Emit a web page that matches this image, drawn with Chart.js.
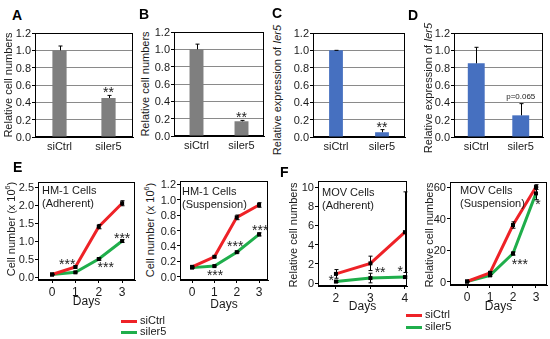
<!DOCTYPE html>
<html>
<head>
<meta charset="utf-8">
<script src="https://cdn.jsdelivr.net/npm/chart.js@4.4.1/dist/chart.umd.min.js"></script>
<style>
  body { margin: 0; background: #fff; }
  #fig { position: relative; width: 550px; height: 339px; overflow: hidden;
         font-family: "Liberation Sans", Arial, sans-serif; color: #1a1a1a; }
  #fig canvas { position: absolute; }
  .lbl { position: absolute; font-weight: bold; font-size: 14px; line-height: 14px; color: #000; }
  .ytitle { position: absolute; font-size: 11px; line-height: 12px; white-space: nowrap;
            transform: translate(-50%, -50%) rotate(-90deg); }
  .ytitle sup { font-size: 7px; line-height: 0; }
  .ytick { position: absolute; font-size: 11px; line-height: 12px; white-space: nowrap; text-align: right; }
  .note { position: absolute; font-size: 11px; line-height: 13px; white-space: nowrap; }
  .leg { position: absolute; font-size: 11px; line-height: 12px; white-space: nowrap; }
  .leg span { display: inline-block; width: 16px; height: 3px; vertical-align: middle; margin-right: 3px; }
</style>
</head>
<body>
<div id="fig">
  <canvas id="chartA"></canvas>
  <canvas id="chartB"></canvas>
  <canvas id="chartC"></canvas>
  <canvas id="chartD"></canvas>
  <canvas id="chartE1"></canvas>
  <canvas id="chartE2"></canvas>
  <canvas id="chartF1"></canvas>
  <canvas id="chartF2"></canvas>

  <div class="lbl" style="left:12px;top:8px">A</div>
  <div class="lbl" style="left:139px;top:7px">B</div>
  <div class="lbl" style="left:272px;top:6px">C</div>
  <div class="lbl" style="left:408px;top:8px">D</div>
  <div class="lbl" style="left:13px;top:160px">E</div>
  <div class="lbl" style="left:280px;top:165px">F</div>

  <div class="ytitle" style="left:8px;top:85px">Relative cell numbers</div>
  <div class="ytitle" style="left:145px;top:84px">Relative cell numbers</div>
  <div class="ytitle" style="left:277px;top:90px">Relative expression of <i>Ier5</i></div>
  <div class="ytitle" style="left:428px;top:88px">Relative expression of <i>Ier5</i></div>
  <div class="ytitle" style="left:11px;top:229px">Cell number (x 10<sup>6</sup>)</div>
  <div class="ytitle" style="left:150px;top:230px">Cell number (x 10<sup>6</sup>)</div>
  <div class="ytitle" style="left:293px;top:235px">Relative cell numbers</div>
  <div class="ytitle" style="left:429px;top:235px">Relative cell numbers</div>

  <div class="note" style="left:42px;top:184px">HM-1 Cells<br>(Adherent)</div>
  <div class="note" style="left:182px;top:185px">HM-1 Cells<br>(Suspension)</div>
  <div class="note" style="left:322px;top:186px">MOV Cells<br>(Adherent)</div>
  <div class="note" style="left:460px;top:184px">MOV Cells<br>(Suspension)</div>

  <div class="leg" style="left:121px;top:314px"><span style="background:#ee2227"></span>siCtrl</div>
  <div class="leg" style="left:121px;top:325px"><span style="background:#1fae4b"></span>siler5</div>
  <div class="leg" style="left:406px;top:308px"><span style="background:#ee2227"></span>siCtrl</div>
  <div class="leg" style="left:406px;top:320px"><span style="background:#1fae4b"></span>siler5</div>
</div>

<script>
// bar panels A-D
const barCats = ['siCtrl', 'siler5'];
const barTicks = [0, 0.2, 0.4, 0.6, 0.8, 1.0, 1.2];
const aVals = [1.0, 0.45];
const aErr = [0.05, 0.03];
const bVals = [1.0, 0.17];
const bErr = [0.06, 0.01];
const cVals = [1.0, 0.055];
const cErr = [0.0, 0.03];
const dVals = [0.85, 0.25];
const dErr = [0.185, 0.135];

// E: HM-1 cells
const eDays = [0, 1, 2, 3];
const eAdhCtrl = [0.07, 0.28, 1.40, 2.05];
const eAdhCtrlErr = [0.01, 0.03, 0.06, 0.07];
const eAdhIer5 = [0.07, 0.13, 0.50, 1.00];
const eAdhIer5Err = [0.01, 0.02, 0.03, 0.04];
const eAdhTicks = [0, 0.5, 1.0, 1.5, 2.0, 2.5];
const eSusCtrl = [0.13, 0.26, 0.77, 0.93];
const eSusCtrlErr = [0.01, 0.01, 0.03, 0.03];
const eSusIer5 = [0.12, 0.14, 0.32, 0.55];
const eSusIer5Err = [0.01, 0.01, 0.01, 0.02];
const eSusTicks = [0, 0.2, 0.4, 0.6, 0.8, 1.0, 1.2];

// F: MOV cells
const fAdhDays = [2, 3, 4];
const fAdhCtrl = [0.95, 2.05, 5.3];
const fAdhCtrlErr = [0.45, 0.75, 4.2];
const fAdhIer5 = [0.15, 0.52, 0.62];
const fAdhIer5Err = [0.1, 0.5, 0.1];
const fAdhTicks = [0, 2, 4, 6, 8, 10];
const fSusDays = [0, 1, 2, 3];
const fSusCtrl = [0.3, 5.8, 36, 60];
const fSusCtrlErr = [0.2, 0.8, 2, 1.5];
const fSusIer5 = [0.3, 4.2, 18, 56];
const fSusIer5Err = [0.2, 0.5, 1, 4];
const fSusTicks = [0, 20, 40, 60];

const RED = '#ee2227';
const GREEN = '#1fae4b';
const GRAY = '#7f7f7f';
const BLUE = '#4670c0';

Chart.defaults.font.family = '"Liberation Sans", Arial, sans-serif';
Chart.defaults.color = '#1a1a1a';
Chart.defaults.animation = false;

const fig = document.getElementById('fig');

// box frame, error bars, point markers and star labels, one plugin per chart
function extras(cfg) {
    return {
        id: 'extras',
        beforeDatasetsDraw(chart) {
            const a = chart.chartArea, ctx = chart.ctx;
            ctx.save();
            ctx.strokeStyle = '#000';
            ctx.lineWidth = 1;
            ctx.strokeRect(Math.round(a.left) + 0.5, Math.round(a.top) + 0.5,
                Math.round(a.right - a.left) - 1, Math.round(a.bottom - a.top) - 1);
            ctx.restore();
        },
        afterDatasetsDraw(chart) {
            const ctx = chart.ctx, ys = chart.scales.y, xs = chart.scales.x;
            ctx.save();
            ctx.strokeStyle = '#000';
            ctx.fillStyle = '#000';
            ctx.lineWidth = 1;
            cfg.errors.forEach((errs, di) => {
                const vals = cfg.values[di];
                chart.getDatasetMeta(di).data.forEach((el, i) => {
                    const x = Math.round(el.x) + 0.5;
                    const top = ys.getPixelForValue(vals[i] + errs[i]);
                    const bot = cfg.upOnly ? el.y : ys.getPixelForValue(vals[i] - errs[i]);
                    ctx.beginPath();
                    ctx.moveTo(x, top); ctx.lineTo(x, bot);
                    ctx.moveTo(x - 2, top); ctx.lineTo(x + 2, top);
                    if (!cfg.upOnly) { ctx.moveTo(x - 2, bot); ctx.lineTo(x + 2, bot); }
                    ctx.stroke();
                    if (cfg.markers) ctx.fillRect(el.x - 2, el.y - 2, 4, 4);
                });
            });
            cfg.notes.forEach(n => {
                const size = n.size || 14;
                ctx.font = size + 'px "Liberation Sans", Arial, sans-serif';
                ctx.fillStyle = '#222';
                ctx.textAlign = 'center';
                ctx.textBaseline = 'middle';
                const shift = n.text.charAt(0) === '*' ? size * 0.22 : 0;
                ctx.fillText(n.text, xs.getPixelForValue(n.x), ys.getPixelForValue(n.y) + shift);
            });
            ctx.restore();
        }
    };
}

function place(id, frame, yw, xh, dec, config) {
    const padT = 10, padR = 5;
    const cv = document.getElementById(id);
    const left = frame[0] - yw, top = frame[1] - padT;
    cv.width = frame[2] - left + padR;
    cv.height = frame[3] - top + xh;
    cv.style.left = left + 'px';
    cv.style.top = top + 'px';
    config.options.responsive = false;
    config.options.layout = { padding: { top: padT, right: padR, left: 0, bottom: 0 } };
    config.options.scales.x.afterFit = s => { s.height = xh; };
    config.options.scales.y.afterFit = s => { s.width = yw; };
    const chart = new Chart(cv, config);

    // y tick labels as page text, placed from the chart's own y scale
    const ys = chart.scales.y;
    const edge = left + chart.chartArea.left - 4;
    ys.ticks.forEach(t => {
        const d = document.createElement('div');
        d.className = 'ytick';
        d.textContent = t.label !== undefined && t.label !== '' ? t.label : t.value.toFixed(dec);
        d.style.right = (550 - edge) + 'px';
        d.style.top = (top + ys.getPixelForValue(t.value) - 6) + 'px';
        fig.appendChild(d);
    });
    return chart;
}

function barChart(id, frame, vals, errs, color, barPct, notes) {
    return place(id, frame, 22, 20, 1, {
        type: 'bar',
        data: {
            labels: barCats,
            datasets: [{ data: vals, backgroundColor: color, borderWidth: 0,
                barPercentage: barPct, categoryPercentage: 1 }]
        },
        options: {
            plugins: { legend: { display: false }, tooltip: { enabled: false } },
            scales: {
                x: {
                    grid: { display: false, drawTicks: false },
                    border: { color: '#000' },
                    ticks: { font: { size: 11 }, padding: 3 }
                },
                y: {
                    min: 0, max: 1.2,
                    afterBuildTicks: s => { s.ticks = barTicks.map(v => ({ value: v })); },
                    grid: { color: '#8a8a8a', tickColor: '#000', tickLength: 3 },
                    border: { color: '#000' },
                    ticks: { display: false, callback: v => v.toFixed(1) }
                }
            }
        },
        plugins: [extras({ values: [vals], errors: [errs], upOnly: true, markers: false, notes: notes })]
    });
}

function lineChart(id, frame, yw, xh, days, series, xr, yr, yTicks, dec, notes) {
    return place(id, frame, yw, xh, dec, {
        type: 'line',
        data: {
            datasets: series.map(s => ({
                data: days.map((d, i) => ({ x: d, y: s.vals[i] })),
                borderColor: s.color, borderWidth: 3, pointRadius: 0, tension: 0
            }))
        },
        options: {
            plugins: { legend: { display: false }, tooltip: { enabled: false } },
            scales: {
                x: {
                    type: 'linear', min: xr[0], max: xr[1],
                    afterBuildTicks: s => { s.ticks = days.map(v => ({ value: v })); },
                    grid: { drawOnChartArea: false, color: '#000', tickLength: 3 },
                    border: { color: '#000' },
                    ticks: { font: { size: 12 }, padding: 2 },
                    title: { display: true, text: 'Days', font: { size: 12 }, padding: { top: 2, bottom: 4 } }
                },
                y: {
                    min: yr[0], max: yr[1],
                    afterBuildTicks: s => { s.ticks = yTicks.map(v => ({ value: v })); },
                    grid: { drawOnChartArea: false, color: '#000', tickLength: 3 },
                    border: { color: '#000' },
                    ticks: { display: false, callback: v => v.toFixed(dec) }
                }
            }
        },
        plugins: [extras({ values: series.map(s => s.vals), errors: series.map(s => s.errs),
            upOnly: false, markers: true, notes: notes })]
    });
}

barChart('chartA', [35, 33, 133, 137], aVals, aErr, GRAY, 0.29, [{ x: 1, y: 0.54, text: '**' }]);
barChart('chartB', [174, 32, 264, 136], bVals, bErr, GRAY, 0.31, [{ x: 1, y: 0.24, text: '**' }]);
barChart('chartC', [313, 33, 405, 137], cVals, cErr, BLUE, 0.30, [{ x: 1, y: 0.14, text: '**' }]);
barChart('chartD', [454, 33, 543, 137], dVals, dErr, BLUE, 0.38, [{ x: 1, y: 0.46, text: 'p=0.065', size: 8 }]);

lineChart('chartE1', [38, 182, 135, 280], 22, 33, eDays,
    [{ vals: eAdhCtrl, errs: eAdhCtrlErr, color: RED }, { vals: eAdhIer5, errs: eAdhIer5Err, color: GREEN }],
    [-0.6, 3.55], [-0.083, 2.64], eAdhTicks, 1,
    [{ x: 0.65, y: 0.41, text: '***' }, { x: 2.3, y: 0.33, text: '***' }, { x: 3.0, y: 1.15, text: '***' }]);

lineChart('chartE2', [180, 181, 268, 280], 22, 36, eDays,
    [{ vals: eSusCtrl, errs: eSusCtrlErr, color: RED }, { vals: eSusIer5, errs: eSusIer5Err, color: GREEN }],
    [-0.54, 3.4], [-0.04, 1.24], eSusTicks, 1,
    [{ x: 1.03, y: 0.05, text: '***' }, { x: 1.93, y: 0.42, text: '***' }, { x: 3.05, y: 0.63, text: '***' }]);

lineChart('chartF1', [318, 181, 407, 286], 22, 32, fAdhDays,
    [{ vals: fAdhCtrl, errs: fAdhCtrlErr, color: RED }, { vals: fAdhIer5, errs: fAdhIer5Err, color: GREEN }],
    [1.48, 4.06], [-0.31, 10.63], fAdhTicks, 0,
    [{ x: 1.86, y: 0.5, text: '*' }, { x: 3.28, y: 1.35, text: '**' }, { x: 3.86, y: 1.45, text: '*' }]);

lineChart('chartF2', [450, 182, 547, 285], 22, 33, fSusDays,
    [{ vals: fSusCtrl, errs: fSusCtrlErr, color: RED }, { vals: fSusIer5, errs: fSusIer5Err, color: GREEN }],
    [-0.74, 3.48], [-1.9, 63.2], fSusTicks, 0,
    [{ x: 3.09, y: 50.5, text: '*' }, { x: 2.3, y: 12.6, text: '***' }]);
</script>
</body>
</html>
